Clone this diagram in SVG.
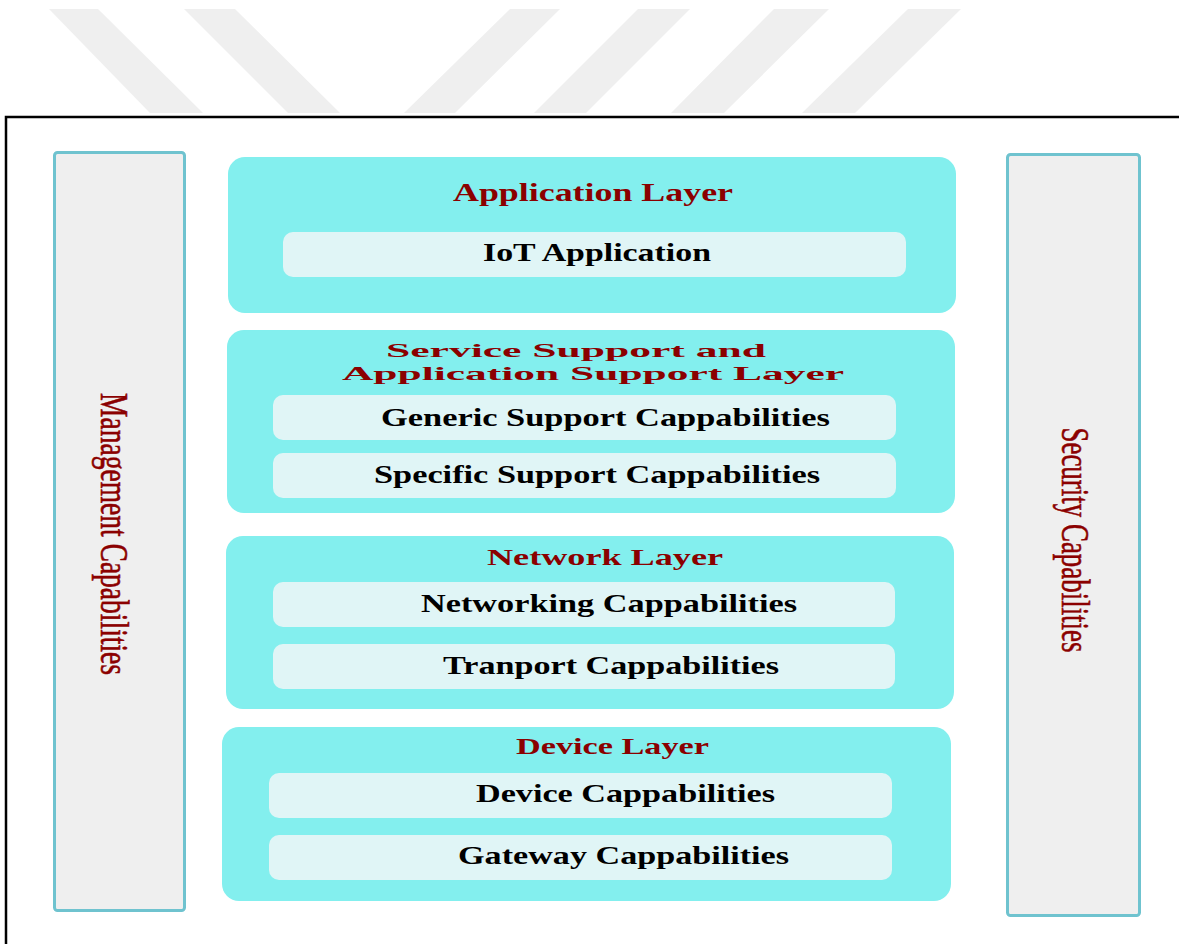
<svg xmlns="http://www.w3.org/2000/svg" width="1179" height="944" viewBox="0 0 1179 944">
<style>
.stripe{fill:#efefef}
.side{fill:#efefef;stroke:#6fc3cf;stroke-width:3}
.layer{fill:#83efee}
.inner{fill:#e0f5f6}
.title{font-family:"Liberation Serif","Times New Roman",serif;font-weight:bold;fill:#8b0000}
.item{font-family:"Liberation Serif","Times New Roman",serif;font-weight:bold;fill:#000;font-size:25px}
.vert{font-family:"Liberation Serif","Times New Roman",serif;fill:#8b0000;font-size:27px;stroke:#8b0000;stroke-width:0.4}
</style>
<rect width="1179" height="944" fill="#fff"/>
<g id="watermark">
<polygon class="stripe" points="49,9 98,9 203,113 150,113"/>
<polygon class="stripe" points="184,9 235,9 340,113 288,113"/>
<polygon class="stripe" points="510,9 560,9 455,113 404,113"/>
<polygon class="stripe" points="638,9 690,9 586,113 534,113"/>
<polygon class="stripe" points="774,9 829,9 724,113 671,113"/>
<polygon class="stripe" points="908,9 961,9 855,113 802,113"/>
</g>
<rect id="frame" x="6" y="117" width="1200" height="900" fill="none" stroke="#000" stroke-width="2.5"/>
<g id="management">
<rect class="side" x="54.5" y="152.5" width="130" height="758" rx="3"/>
<text class="vert" transform="translate(101,534) scale(1.45,1) rotate(90)" text-anchor="middle" textLength="282" lengthAdjust="spacingAndGlyphs">Management Capabilities</text>
</g>
<g id="security">
<rect class="side" x="1007.5" y="154.5" width="132" height="761" rx="3"/>
<text class="vert" transform="translate(1062,540) scale(1.45,1) rotate(90)" text-anchor="middle" textLength="225" lengthAdjust="spacingAndGlyphs">Security Capabilities</text>
</g>
<g id="application-layer">
<rect class="layer" x="228" y="157" width="728" height="156" rx="17"/>
<text class="title" x="453" y="201" font-size="26" textLength="280" lengthAdjust="spacingAndGlyphs">Application Layer</text>
<rect class="inner" x="283" y="232" width="623" height="45" rx="10"/>
<text class="item" x="483" y="261" textLength="228" lengthAdjust="spacingAndGlyphs">IoT Application</text>
</g>
<g id="service-layer">
<rect class="layer" x="227" y="330" width="728" height="183" rx="17"/>
<text class="title" x="386" y="357" font-size="19" textLength="380" lengthAdjust="spacingAndGlyphs">Service Support and</text>
<text class="title" x="342" y="380" font-size="19" textLength="502" lengthAdjust="spacingAndGlyphs">Application Support Layer</text>
<rect class="inner" x="273" y="395" width="623" height="45" rx="10"/>
<text class="item" x="381" y="426" textLength="449" lengthAdjust="spacingAndGlyphs">Generic Support Cappabilities</text>
<rect class="inner" x="273" y="453" width="623" height="45" rx="10"/>
<text class="item" x="374" y="483" textLength="446" lengthAdjust="spacingAndGlyphs">Specific Support Cappabilities</text>
</g>
<g id="network-layer">
<rect class="layer" x="226" y="536" width="728" height="173" rx="17"/>
<text class="title" x="487" y="565" font-size="24" textLength="236" lengthAdjust="spacingAndGlyphs">Network Layer</text>
<rect class="inner" x="273" y="582" width="622" height="45" rx="10"/>
<text class="item" x="421" y="612" textLength="376" lengthAdjust="spacingAndGlyphs">Networking Cappabilities</text>
<rect class="inner" x="273" y="644" width="622" height="45" rx="10"/>
<text class="item" x="443" y="674" textLength="336" lengthAdjust="spacingAndGlyphs">Tranport Cappabilities</text>
</g>
<g id="device-layer">
<rect class="layer" x="222" y="727" width="729" height="174" rx="17"/>
<text class="title" x="516" y="754" font-size="24" textLength="193" lengthAdjust="spacingAndGlyphs">Device Layer</text>
<rect class="inner" x="269" y="773" width="623" height="45" rx="10"/>
<text class="item" x="476" y="802" textLength="299" lengthAdjust="spacingAndGlyphs">Device Cappabilities</text>
<rect class="inner" x="269" y="835" width="623" height="45" rx="10"/>
<text class="item" x="458" y="864" textLength="331" lengthAdjust="spacingAndGlyphs">Gateway Cappabilities</text>
</g>
<g id="connectors"></g>
</svg>
